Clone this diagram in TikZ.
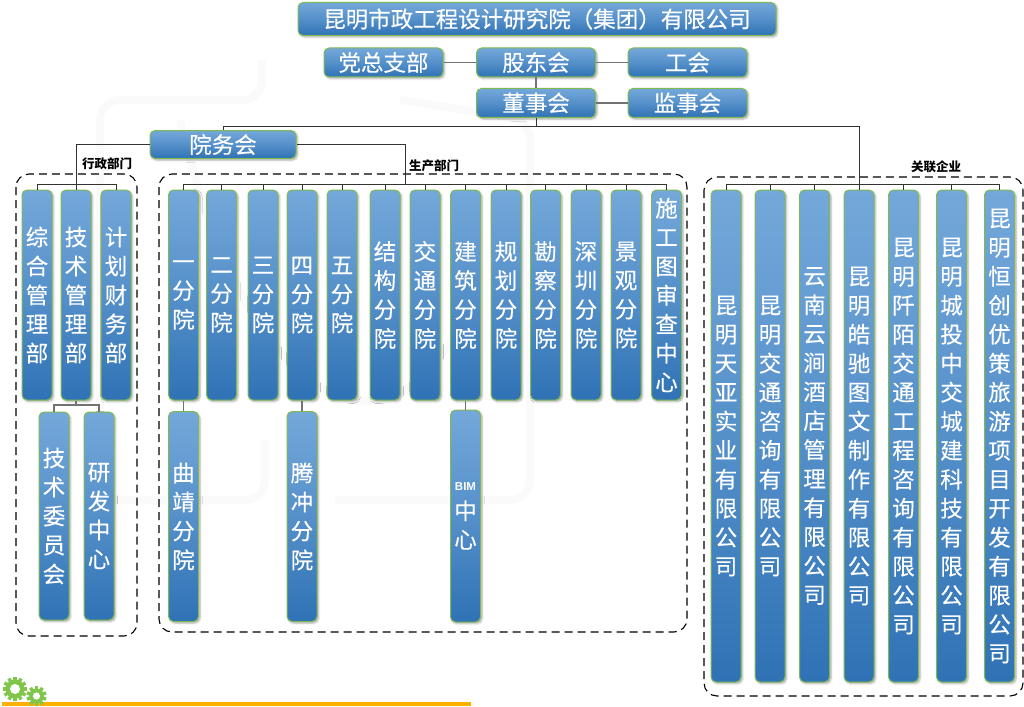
\documentclass[tikz,border=0pt]{standalone}
\usepackage{fontspec}
\usetikzlibrary{shadows.blur,calc}
\newfontfamily\cjk[FakeBold=0.25]{Noto Sans CJK SC}
\newfontfamily\cjktag{Noto Sans CJK SC}
\newfontfamily\latinlabel{Liberation Sans}
\definecolor{boxtop}{HTML}{74A8DA}
\definecolor{boxbot}{HTML}{2F72B5}
\definecolor{boxedge}{HTML}{7FBA50}
\definecolor{linec}{HTML}{333333}
\definecolor{gearc}{HTML}{7FC64B}
\definecolor{barc}{HTML}{FDB000}
\definecolor{wm}{HTML}{FAFAFA}
\tikzset{
 box/.style={draw=boxedge,line width=1pt,rounded corners=5,top color=boxtop,bottom color=boxbot,middle color=boxtop!55!boxbot,
   text=white,inner sep=0pt,align=center,blur shadow={shadow xshift=1.5pt,shadow yshift=-1.5pt,shadow blur steps=4,shadow blur radius=2pt,shadow opacity=35}},
 hbox/.style={box,font=\cjk\fontsize{22.5}{25}\selectfont},
 vbox/.style={box,font=\cjk\fontsize{22.5}{29}\selectfont,minimum width=30},
 shortv/.style={vbox,minimum height=210},
 longv/.style={vbox,minimum height=492},
 group/.style={draw=black,line width=1.1pt,dash pattern=on 8pt off 5pt,rounded corners=13},
 link/.style={draw=linec,line width=1pt},
 softlink/.style={draw=black!55,line width=1.1pt},
 tag/.style={font=\cjktag\bfseries\fontsize{12.5}{14}\selectfont,text=black,inner sep=0pt},
}
\begin{document}
\begin{tikzpicture}[x=1pt,y=-1pt]
\useasboundingbox (0,0) rectangle (1024,706);
% faint watermark
\draw[wm,line width=8pt,rounded corners=20] (262,60) -- (262,100) -- (100,100) -- (100,500) -- (265,500) -- (265,440);
\draw[wm,line width=8pt,rounded corners=20] (335,500) -- (530,500) -- (530,120) -- (400,100);
\draw[wm,line width=8pt] (180,120) .. controls (250,420) and (400,480) .. (470,300);
% groups
\draw[group] (16,174) rectangle (137,636);
\draw[group] (159,174) rectangle (687,632);
\draw[group] (704,177) rectangle (1023,696);
% top
\node[hbox,minimum width=478,minimum height=33] (title) at (537,19) {昆明市政工程设计研究院（集团）有限公司};
\node[hbox,minimum width=119,minimum height=29] (party) at (383.5,62.5) {党总支部};
\node[hbox,minimum width=119,minimum height=29] (holders) at (536,62.5) {股东会};
\node[hbox,minimum width=119,minimum height=29] (union) at (687.5,62.5) {工会};
\node[hbox,minimum width=119,minimum height=29] (board) at (536,103) {董事会};
\node[hbox,minimum width=119,minimum height=29] (super) at (687.5,103) {监事会};
\node[hbox,minimum width=146,minimum height=28] (office) at (223,144.5) {院务会};
% admin
\node[shortv] (a1) at (37,295) {综\\合\\管\\理\\部};
\node[shortv] (a2) at (76,295) {技\\术\\管\\理\\部};
\node[shortv] (a3) at (116,295) {计\\划\\财\\务\\部};
\node[vbox,minimum height=208] (a4) at (54,516) {技\\术\\委\\员\\会};
\node[vbox,minimum height=208] (a5) at (99,516) {研\\发\\中\\心};
% production
\node[shortv] (p1) at (183.5,295) {一\\分\\院};
\node[shortv] (p2) at (221.5,295) {二\\分\\院};
\node[shortv] (p3) at (263,295) {三\\分\\院};
\node[shortv] (p4) at (302,295) {四\\分\\院};
\node[shortv] (p5) at (342,295) {五\\分\\院};
\node[shortv] (p6) at (385,295) {结\\构\\分\\院};
\node[shortv] (p7) at (425,295) {交\\通\\分\\院};
\node[shortv] (p8) at (465.5,295) {建\\筑\\分\\院};
\node[shortv] (p9) at (506,295) {规\\划\\分\\院};
\node[shortv] (p10) at (545.5,295) {勘\\察\\分\\院};
\node[shortv] (p11) at (586,295) {深\\圳\\分\\院};
\node[shortv] (p12) at (626,295) {景\\观\\分\\院};
\node[shortv] (p13) at (666.5,295) {施\\工\\图\\审\\查\\中\\心};
\node[shortv] (q1) at (183.5,516.5) {曲\\靖\\分\\院};
\node[shortv] (q2) at (302,516.5) {腾\\冲\\分\\院};
\node[shortv,minimum height=212] (q3) at (465.5,516) {{\latinlabel\bfseries\fontsize{11.5}{24}\selectfont BIM}\\中\\心};
% related
\node[longv] (r1) at (726,436) {昆\\明\\天\\亚\\实\\业\\有\\限\\公\\司};
\node[longv] (r2) at (770,436) {昆\\明\\交\\通\\咨\\询\\有\\限\\公\\司};
\node[longv] (r3) at (814.5,436) {云\\南\\云\\涧\\酒\\店\\管\\理\\有\\限\\公\\司};
\node[longv] (r4) at (859,436) {昆\\明\\皓\\驰\\图\\文\\制\\作\\有\\限\\公\\司};
\node[longv] (r5) at (903.5,436) {昆\\明\\阡\\陌\\交\\通\\工\\程\\咨\\询\\有\\限\\公\\司};
\node[longv] (r6) at (951.5,436) {昆\\明\\城\\投\\中\\交\\城\\建\\科\\技\\有\\限\\公\\司};
\node[longv] (r7) at (999.5,436) {昆\\明\\恒\\创\\优\\策\\旅\\游\\项\\目\\开\\发\\有\\限\\公\\司};
% labels
\node[tag] (tagA) at (107,164) {行政部门};
\node[tag] (tagP) at (434,166) {生产部门};
\node[tag] (tagR) at (936,167) {关联企业};
% helper rails
\coordinate (railtop) at (0,126);
\coordinate (bus) at (0,184);
\coordinate (sub) at (0,405);
% connectors
\draw[softlink] (party) -- (holders);
\draw[softlink] (holders) -- (union);
\draw[softlink] (holders) -- (board);
\draw[softlink] (board) -- (super);
\draw[link] (board.south) -- (board.south |- railtop);
\draw[link] (office.north |- railtop) -- (r4.north |- railtop);
\draw[link] (office.north |- railtop) -- (office.north);
\draw[link] (r4.north |- railtop) -- (r4.north);
\draw[link] (office.west) -| (a2.north);
\draw[link] (a1.north |- bus) -- (a3.north |- bus);
\foreach \n in {a1,a3} \draw[link] (\n.north) -- (\n.north |- bus);
\coordinate (pdrop) at (405,184);
\draw[link] (office.east) -| (pdrop);
\draw[link] (p1.north |- bus) -- (p13.north |- bus);
\foreach \n in {p1,p2,p3,p4,p5,p6,p7,p8,p9,p10,p11,p12,p13} \draw[link] (\n.north) -- (\n.north |- bus);
\draw[link] (r1.north |- bus) -- (r7.north |- bus);
\foreach \n in {r1,r2,r3,r5,r6,r7} \draw[link] (\n.north) -- (\n.north |- bus);
\draw[softlink] (a2.south) -- (a2.south |- sub);
\draw[softlink] (a4.north) |- (a5.north |- sub) -- (a5.north);
\draw[softlink] (p1.south) -- (q1.north);
\draw[softlink] (p4.south) -- (q2.north);
\draw[softlink] (p8.south) -- (q3.north);
% bottom bar and gears
\fill[barc] (2,701.5) rectangle (471,706);
\foreach \cx/\cy/\r/\t in {15/689/9.5/12, 36.5/696/7.5/10}{
  \fill[gearc] (\cx,\cy) circle (\r);
  \foreach \k in {1,...,\t}
    \fill[gearc,shift={(\cx,\cy)},rotate=360*\k/\t] (-1.7,-\r-2.6) rectangle (1.7,-\r+1);
}
\fill[white] (15,689) circle (5);
\fill[white] (36.5,696) circle (3.6);
\end{tikzpicture}
\end{document}
